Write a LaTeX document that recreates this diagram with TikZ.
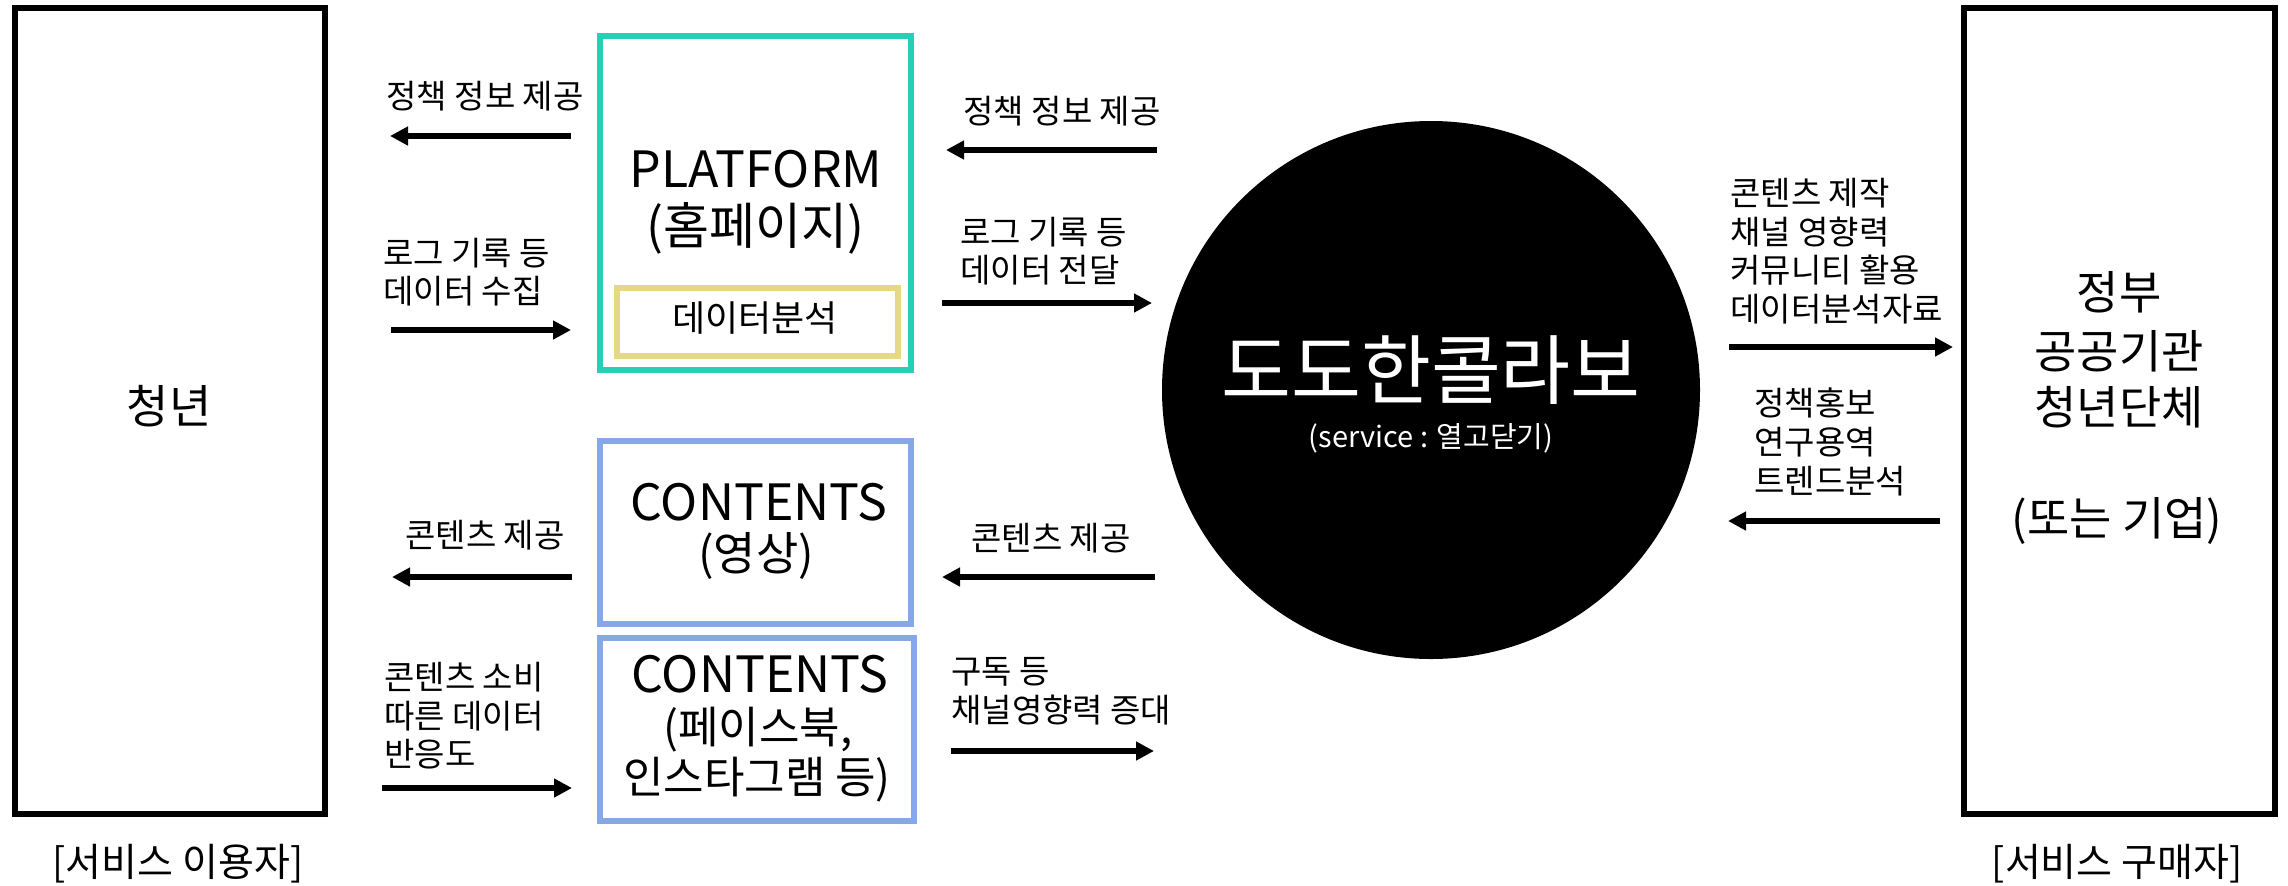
\documentclass[tikz,border=0pt]{standalone}
\usepackage{fontspec}
\setmainfont{Noto Sans CJK KR}
\usetikzlibrary{arrows.meta}
\definecolor{tealc}{RGB}{38,208,180}
\definecolor{yelc}{RGB}{230,216,133}
\definecolor{bluc}{RGB}{134,168,230}
\begin{document}
\begin{tikzpicture}[x=0.5pt,y=-0.5pt,
  box/.style={draw, line width=3pt, inner sep=0pt},
  lbl/.style={font=\fontsize{16.5pt}{19.3pt}\selectfont, align=left, inner sep=0pt},
  big/.style={font=\fontsize{23pt}{26pt}\selectfont, inner sep=0pt},
  arr/.style={line width=3pt, -{Triangle[length=9pt,width=9pt]}}]
\useasboundingbox (0,0) rectangle (2288,885);
% boxes
\node[box, minimum width=155pt, minimum height=403pt] (user) at (170,411) {};
\node[box, minimum width=155.25pt, minimum height=403pt] (buyer) at (2119.25,411) {};
\node[box, draw=tealc, minimum width=155.5pt, minimum height=166.75pt] (plat) at (755.5,202.75) {};
\node[box, draw=yelc, minimum width=140.5pt, minimum height=34pt] (ana) at (757.5,322) {};
\node[box, draw=bluc, minimum width=155.5pt, minimum height=91.5pt] (cont1) at (755.5,532.5) {};
\node[box, draw=bluc, minimum width=157pt, minimum height=91.5pt] (cont2) at (757,729.5) {};
\node[circle, fill=black, inner sep=0pt, minimum size=269pt] (dodo) at (1431,390) {};
% box texts
\node[big] (tyouth) at (169,406) {청년};
\node[big] (tgov1) at (2119,292) {정부};
\node[big] (tgov2) at (2119,351) {공공기관};
\node[big] (tgov3) at (2119,407) {청년단체};
\node[big] (tgov4) at (2117,521) {(또는 기업)};
\node[font=\fontsize{19.5pt}{22pt}\selectfont, inner sep=0pt] (tuser) at (178,864) {[서비스 이용자]};
\node[font=\fontsize{19.5pt}{22pt}\selectfont, inner sep=0pt] (tbuyer) at (2117,864) {[서비스 구매자]};
\node[font=\fontsize{25pt}{28pt}\selectfont, inner sep=0pt] (tplat1) at (756,169) {PLATFORM};
\node[font=\fontsize{25pt}{28pt}\selectfont, inner sep=0pt] (tplat2) at (755,228) {(홈페이지)};
\node[font=\fontsize{18pt}{20pt}\selectfont, inner sep=0pt] (tana) at (755,318) {데이터분석};
\node[font=\fontsize{25pt}{28pt}\selectfont, inner sep=0pt] (tc11) at (759,502) {CONTENTS};
\node[font=\fontsize{23pt}{26pt}\selectfont, inner sep=0pt] (tc12) at (756,556) {(영상)};
\node[font=\fontsize{25pt}{28pt}\selectfont, inner sep=0pt] (tc21) at (760,674) {CONTENTS};
\node[font=\fontsize{22pt}{26pt}\selectfont, inner sep=0pt] (tc22) at (758,730) {(페이스북,};
\node[font=\fontsize{22pt}{26pt}\selectfont, inner sep=0pt] (tc23) at (757,780) {인스타그램 등)};
\node[text=white, font=\fontsize{38pt}{42pt}\selectfont, inner sep=0pt] (tdodo1) at (1431,370) {도도한콜라보};
\node[text=white, font=\fontsize{14.5pt}{16pt}\selectfont, inner sep=0pt] (tdodo2) at (1431,438) {(service : 열고닫기)};
% arrow labels
\node[lbl] (l1) at (485,96) {정책 정보 제공};
\node[lbl, anchor=west] (l2) at (383,272) {로그 기록 등\\데이터 수집};
\node[lbl] (m1) at (1062,111) {정책 정보 제공};
\node[lbl, anchor=west] (m2) at (960,251) {로그 기록 등\\데이터 전달};
\node[lbl, anchor=west] (r1) at (1730,251) {콘텐츠 제작\\채널 영향력\\커뮤니티 활용\\데이터분석자료};
\node[lbl, anchor=west] (r2) at (1754,442) {정책홍보\\연구용역\\트렌드분석};
\node[lbl] (l3) at (485,535) {콘텐츠 제공};
\node[lbl, anchor=west] (l4) at (384,716) {콘텐츠 소비\\따른 데이터\\반응도};
\node[lbl] (m3) at (1051,538) {콘텐츠 제공};
\node[lbl, anchor=west] (m4) at (951,691) {구독 등\\채널영향력 증대};
% arrow end points
\coordinate (a1s) at (571,136); \coordinate (a1e) at (390,136);
\coordinate (a2s) at (391,330); \coordinate (a2e) at (571,330);
\coordinate (a3s) at (1157,150); \coordinate (a3e) at (946,150);
\coordinate (a4s) at (942,303); \coordinate (a4e) at (1152,303);
\coordinate (a5s) at (1729,347); \coordinate (a5e) at (1953,347);
\coordinate (a6s) at (1940,521); \coordinate (a6e) at (1728,521);
\coordinate (a7s) at (572,577); \coordinate (a7e) at (392,577);
\coordinate (a8s) at (382,788); \coordinate (a8e) at (572,788);
\coordinate (a9s) at (1155,577); \coordinate (a9e) at (942,577);
\coordinate (a10s) at (951,751); \coordinate (a10e) at (1154,751);
\foreach \i in {1,...,10} \draw[arr] (a\i s) -- (a\i e);
\end{tikzpicture}
\end{document}
